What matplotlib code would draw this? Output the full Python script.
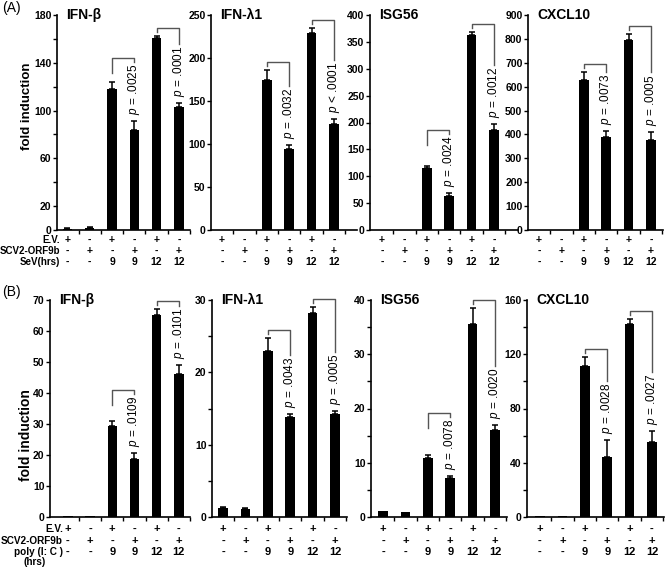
import numpy as np
import matplotlib
matplotlib.use('Agg')
import matplotlib.pyplot as plt
import matplotlib.transforms as mtransforms
from matplotlib import font_manager

plt.rcParams['font.family'] = ['Liberation Sans', 'DejaVu Sans']
plt.rcParams['mathtext.fontset'] = 'custom'
plt.rcParams['mathtext.it'] = 'Liberation Sans:italic'
plt.rcParams['mathtext.rm'] = 'Liberation Sans'

# condensed face for tick labels / table, if the system has it
installed = {f.name for f in font_manager.fontManager.ttflist}
NARROW = 'Liberation Sans Narrow' if 'Liberation Sans Narrow' in installed else 'Liberation Sans'

W, H = 667, 569

genes = ['IFN-β', 'IFN-λ1', 'ISG56', 'CXCL10']

# treatment table under each panel
ev_row = ['+', '-', '+', '-', '+', '-']
orf_row = ['-', '+', '-', '+', '-', '+']
hrs_row = ['-', '-', '9', '9', '12', '12']

# (A) SeV infection
sev_vals = [
    [1, 2, 118, 84, 161, 103],
    [0, 0, 175, 94, 229, 123],
    [0, 0, 116, 63, 363, 186],
    [0, 0, 628, 390, 795, 376],
]
sev_errs = [
    [0.4, 0.6, 6, 7, 1.5, 3],
    [0, 0, 11, 5, 6, 6],
    [0, 0, 4, 5, 6, 11],
    [0, 0, 35, 25, 24, 36],
]
sev_p = [['= .0025', '= .0001'], ['= .0032', '< .0001'],
         ['= .0024', '= .0012'], ['= .0073', '= .0005']]
sev_ymax = [180, 250, 400, 900]
sev_ticks = [[0, 20, 60, 100, 140, 180], list(range(0, 251, 50)),
             list(range(0, 401, 50)), list(range(0, 901, 100))]
sev_minor = [[40, 80, 120, 160], [], [], []]

# (B) poly(I:C) transfection
pic_vals = [
    [0.3, 0.3, 29.4, 18.6, 65.2, 46],
    [1.2, 1.1, 23, 13.8, 28.2, 14.2],
    [1.05, 0.9, 10.9, 7.2, 35.6, 16],
    [0.5, 0.5, 111.5, 44.3, 142.3, 55.4],
]
pic_errs = [
    [0, 0, 1.5, 2, 1.9, 3],
    [0.2, 0.1, 1.8, 0.4, 0.8, 0.45],
    [0, 0, 0.6, 0.3, 3, 0.9],
    [0, 0, 6.6, 12.3, 3.4, 7.9],
]
pic_p = [['= .0109', '= .0101'], ['= .0043', '= .0005'],
         ['= .0078', '= .0020'], ['= .0028', '= .0027']]
pic_ymax = [70, 30, 40, 160]
pic_ticks = [list(range(0, 71, 10)), [0, 10, 20, 30],
             [0, 10, 20, 30, 40], [0, 40, 80, 120, 160]]
pic_minor = [[], [5, 15, 25], [5, 15, 25, 35], [20, 60, 100, 140]]

# layout in pixels: left, right, top, bottom, first bar centre
boxes_a = [(57, 190, 15, 230, 67.5), (211, 357, 15, 230, 222),
           (370, 518, 15, 230, 382), (528, 663, 15, 230, 539)]
boxes_b = [(50, 190, 300, 517, 68), (212, 347, 300, 517, 223),
           (371, 507, 300, 517, 383), (527, 664, 300, 517, 540)]
STEP = 22.4

fig = plt.figure(figsize=(W / 100, H / 100), dpi=100)
rend = fig.canvas.get_renderer()


def draw_panel(box, vals, errs, ptexts, ymax, major, minor, gene, rows, row_y, tsize):
    l, r, t, b, x0 = box
    ax = fig.add_axes([l / W, 1 - b / H, (r - l) / W, (b - t) / H])
    x = np.arange(6)
    vals = np.array(vals, dtype=float)
    errs = np.array(errs, dtype=float)
    ax.set_xlim((l - x0) / STEP, (r - x0) / STEP)
    ax.set_ylim(0, ymax)
    ax.bar(x, vals, width=0.42, color='black')
    m = errs > 0
    ax.errorbar(x[m], vals[m], yerr=[np.zeros(m.sum()), errs[m]], fmt='none',
                ecolor='black', elinewidth=1.1, capsize=2.5, capthick=1.1)

    for s in ['top', 'right']:
        ax.spines[s].set_visible(False)
    for s in ['left', 'bottom']:
        ax.spines[s].set_linewidth(1.2)
    ax.set_yticks(major)
    ax.set_yticks(minor, minor=True)
    ax.set_xticks([])
    ax.set_xticks(np.arange(0.5, 5.6, 1), minor=True)
    ax.tick_params(axis='y', which='both', direction='out', length=3, width=1, pad=1,
                   labelsize=7.5)
    ax.tick_params(axis='x', which='minor', direction='out', length=3, width=1)
    for lab in ax.get_yticklabels():
        lab.set_fontweight('bold')
        lab.set_family(NARROW)

    ax.text(9 / (r - l), 1.0, gene, transform=ax.transAxes, ha='left', va='center',
            fontsize=10, fontweight='bold')

    # brackets with p values
    px = ymax / (b - t)
    for (i, j), ptxt in zip([(2, 3), (4, 5)], ptexts):
        hl = vals[i] + errs[i]
        hr = vals[j] + errs[j]
        txt = ax.text(j, hr + 6 * px, '$p$ ' + ptxt, rotation=90, ha='center',
                      va='bottom', fontsize=8.5)
        bb = txt.get_window_extent(renderer=rend)
        text_top = ax.transData.inverted().transform((0, bb.y1))[1]
        top = max(text_top + 6 * px, hl + 8 * px)
        left_end = max(hl + 4 * px, top - 15 * px)
        ax.plot([i, i, j, j], [left_end, top, top, text_top + 2 * px],
                color='#555555', lw=1, clip_on=False)

    trans = mtransforms.blended_transform_factory(ax.transData, fig.transFigure)
    for row, ry in zip(rows, row_y):
        for xi, s in zip(x, row):
            ax.text(xi, 1 - ry / H, s, transform=trans, ha='center', va='center',
                    fontsize=tsize, fontweight='bold', family=NARROW, clip_on=False)
    return ax


rows = [ev_row, orf_row, hrs_row]
row_y_a = [240, 251, 262]
row_y_b = [529, 541, 552]

for k in range(4):
    draw_panel(boxes_a[k], sev_vals[k], sev_errs[k], sev_p[k], sev_ymax[k],
               sev_ticks[k], sev_minor[k], genes[k], rows, row_y_a, 7.5)
    draw_panel(boxes_b[k], pic_vals[k], pic_errs[k], pic_p[k], pic_ymax[k],
               pic_ticks[k], pic_minor[k], genes[k], rows, row_y_b, 8)

# row labels
for lab, ry in zip(['E.V.', 'SCV2-ORF9b', 'SeV(hrs)'], row_y_a):
    fig.text(60 / W, 1 - ry / H, lab, ha='right', va='center', fontsize=7,
             fontweight='bold', family=NARROW)
for lab, ry in zip(['E.V.', 'SCV2-ORF9b', 'poly (I: C )'], row_y_b):
    fig.text(63 / W, 1 - ry / H, lab, ha='right', va='center', fontsize=7.2,
             fontweight='bold', family=NARROW)
fig.text(35 / W, 1 - 562 / H, '(hrs)', ha='center', va='center', fontsize=7.2,
         fontweight='bold', family=NARROW)

fig.text(27 / W, 1 - 106 / H, 'fold induction', rotation=90, ha='center', va='center',
         fontsize=9.5, fontweight='bold')
fig.text(26 / W, 1 - 435 / H, 'fold induction', rotation=90, ha='center', va='center',
         fontsize=10, fontweight='bold')
fig.text(2 / W, 1 - 8 / H, '(A)', ha='left', va='center', fontsize=10)
fig.text(2 / W, 1 - 292 / H, '(B)', ha='left', va='center', fontsize=10)

fig.savefig('out.png', dpi=100, facecolor='white')
